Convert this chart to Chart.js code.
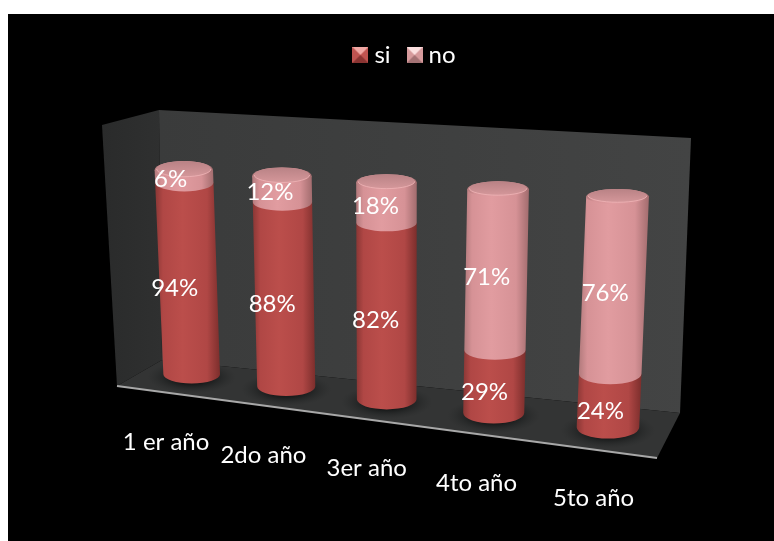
<!DOCTYPE html>
<html lang="es">
<head>
    <meta charset="UTF-8">
    <title>si / no por año</title>
    <script src="https://cdn.jsdelivr.net/npm/chart.js"></script>
    <style>
        html, body { margin: 0; padding: 0; background: #fff; }
        #wrap { position: absolute; left: 0; top: 0; width: 774px; height: 541px; }
    </style>
</head>
<body>
    <div id="wrap"><canvas id="chart" width="774" height="541"></canvas></div>

    <script>
        // Data
        const categories = ['1 er año', '2do año', '3er año', '4to año', '5to año'];
        const siValues = [94, 88, 82, 29, 24];
        const noValues = [6, 12, 18, 71, 76];

        const FONT = 'Lato, Carlito, sans-serif';

        // Where the plane of the column axes lands on the page (bl, br, tr, tl)
        const plane = [[146.5, 368.5], [668, 435], [680.5, 200.5], [137, 167]];

        // The 3D box behind the columns
        const box = {
            wallTL: [159, 110], wallTR: [691, 138], wallBR: [680, 413], wallBL: [162, 360],
            sideTL: [102, 125], floorFL: [117, 386], floorFR: [657, 458]
        };

        // Colours: [edge left, mid, highlight, edge right]
        const shades = {
            si: ['#8a3735', '#b04745', '#bb4e4b', '#7c2e2c'],
            no: ['#b27a7c', '#d69296', '#e19ca0', '#a26c6e']
        };

        // Solve the unit square -> quad homography
        function makeHomography(q) {
            const [p0, p1, p2, p3] = q;
            const dx1 = p1[0] - p2[0], dx2 = p3[0] - p2[0], sx = p0[0] - p1[0] + p2[0] - p3[0];
            const dy1 = p1[1] - p2[1], dy2 = p3[1] - p2[1], sy = p0[1] - p1[1] + p2[1] - p3[1];
            const det = dx1 * dy2 - dx2 * dy1;
            const g = (sx * dy2 - dx2 * sy) / det;
            const h = (dx1 * sy - sx * dy1) / det;
            const a = p1[0] - p0[0] + g * p1[0], b = p3[0] - p0[0] + h * p3[0], c = p0[0];
            const d = p1[1] - p0[1] + g * p1[1], e = p3[1] - p0[1] + h * p3[1], f = p0[1];
            return (u, v) => {
                const w = g * u + h * v + 1;
                return [(a * u + b * v + c) / w, (d * u + e * v + f) / w];
            };
        }
        const project = makeHomography(plane);

        function polygon(ctx, pts, fill) {
            ctx.beginPath();
            pts.forEach((p, i) => i ? ctx.lineTo(p[0], p[1]) : ctx.moveTo(p[0], p[1]));
            ctx.closePath();
            ctx.fillStyle = fill;
            ctx.fill();
        }

        function drawBox(ctx) {
            let g = ctx.createLinearGradient(102, 0, 162, 0);
            g.addColorStop(0, '#2a2b2b');
            g.addColorStop(1, '#2f3030');
            polygon(ctx, [box.sideTL, box.wallTL, box.wallBL, box.floorFL], g);

            g = ctx.createLinearGradient(159, 0, 691, 0);
            g.addColorStop(0, '#3a3b3b');
            g.addColorStop(1, '#434444');
            polygon(ctx, [box.wallTL, box.wallTR, box.wallBR, box.wallBL], g);

            polygon(ctx, [box.wallBL, box.wallBR, box.floorFR, box.floorFL], '#333434');

            ctx.beginPath();
            ctx.moveTo(box.floorFL[0], box.floorFL[1]);
            ctx.lineTo(box.floorFR[0], box.floorFR[1]);
            ctx.strokeStyle = '#a8a8a8';
            ctx.lineWidth = 2;
            ctx.stroke();
        }

        // Half height of the ellipse at a plane position
        function ellipseRy(u, v) {
            const bottom = 9 + 2.5 * u, top = 9 - 1.5 * u;
            return bottom + (top - bottom) * v;
        }

        // Half width of a column; it grows less towards the viewer than the plane does
        function columnRx(barWidth, u, v) {
            return barWidth * (0.34 + 0.045 * u + 0.012 * v * (1 - u));
        }

        function drawShadow(ctx, cx, cy, rx, ry) {
            ctx.save();
            ctx.translate(cx, cy + 3);
            ctx.scale(1, (ry + 7) / (rx + 16));
            const g = ctx.createRadialGradient(0, 0, rx * 0.7, 0, 0, rx + 16);
            g.addColorStop(0, 'rgba(24,26,26,0.95)');
            g.addColorStop(1, 'rgba(40,42,42,0)');
            ctx.fillStyle = g;
            ctx.beginPath();
            ctx.arc(0, 0, rx + 16, 0, Math.PI * 2);
            ctx.fill();
            ctx.restore();
        }

        function sideGradient(ctx, x0, x1, colors) {
            const g = ctx.createLinearGradient(x0, 0, x1, 0);
            g.addColorStop(0, colors[0]);
            g.addColorStop(0.12, colors[1]);
            g.addColorStop(0.42, colors[2]);
            g.addColorStop(0.8, colors[1]);
            g.addColorStop(1, colors[3]);
            return g;
        }

        // One stacked segment of a cylinder, from plane heights v0 up to v1
        function drawSegment(ctx, u, barWidth, v0, v1, colors) {
            const c0 = project(u, v0), c1 = project(u, v1);
            const rx0 = columnRx(barWidth, u, v0), rx1 = columnRx(barWidth, u, v1);
            const ry0 = ellipseRy(u, v0);

            ctx.beginPath();
            ctx.moveTo(c1[0] - rx1, c1[1]);
            ctx.lineTo(c0[0] - rx0, c0[1]);
            ctx.ellipse(c0[0], c0[1], rx0, ry0, 0, Math.PI, 0, true);
            ctx.lineTo(c1[0] + rx1, c1[1]);
            ctx.closePath();
            ctx.fillStyle = sideGradient(ctx, Math.min(c0[0] - rx0, c1[0] - rx1), Math.max(c0[0] + rx0, c1[0] + rx1), colors);
            ctx.fill();
        }

        function drawCap(ctx, u, barWidth, v, colors) {
            const c = project(u, v);
            const rx = columnRx(barWidth, u, v);
            const ry = ellipseRy(u, v);

            ctx.beginPath();
            ctx.ellipse(c[0], c[1], rx, ry, 0, 0, Math.PI * 2);
            ctx.fillStyle = sideGradient(ctx, c[0] - rx, c[0] + rx, colors);
            ctx.fill();

            // top face, a bit darker towards the back, with a light front rim
            const g = ctx.createLinearGradient(0, c[1] - ry, 0, c[1] + ry);
            g.addColorStop(0, '#b98285');
            g.addColorStop(1, '#d89a9d');
            ctx.beginPath();
            ctx.ellipse(c[0], c[1] - 1, rx - 2, ry - 1, 0, 0, Math.PI * 2);
            ctx.fillStyle = g;
            ctx.fill();

            ctx.beginPath();
            ctx.ellipse(c[0], c[1] - 1, rx - 2, ry - 1, 0, 0, Math.PI, false);
            ctx.strokeStyle = 'rgba(240,180,182,0.8)';
            ctx.lineWidth = 1;
            ctx.stroke();
        }

        // Pyramid style legend marker
        function makeMarker(base, light, dark) {
            const s = 16, m = document.createElement('canvas');
            m.width = s; m.height = s;
            const c = m.getContext('2d');
            polygon(c, [[0, 0], [s, 0], [s, s], [0, s]], base);
            polygon(c, [[0, 0], [s, 0], [s / 2, s / 2]], light);
            polygon(c, [[0, s], [s, s], [s / 2, s / 2]], dark);
            return m;
        }
        const markers = [
            makeMarker('#c05350', '#f0a8a4', '#8a3432'),
            makeMarker('#d69a9c', '#fbe0e0', '#a47274')
        ];

        const cylinderPlugin = {
            id: 'cylinders',
            beforeDraw(chart) {
                const ctx = chart.ctx;
                ctx.save();
                ctx.fillStyle = '#fff';
                ctx.fillRect(0, 0, chart.width, chart.height);
                ctx.fillStyle = '#000';
                ctx.fillRect(8, 14, chart.width - 8, chart.height - 14);
                ctx.restore();
            },
            // replaces the flat bars with projected cylinders
            beforeDatasetsDraw(chart) {
                const ctx = chart.ctx, area = chart.chartArea;
                const toU = x => (x - area.left) / (area.right - area.left);
                const toV = y => (area.bottom - y) / (area.bottom - area.top);
                const metas = [chart.getDatasetMeta(0), chart.getDatasetMeta(1)];
                const names = ['si', 'no'];

                ctx.save();
                drawBox(ctx);

                categories.forEach((cat, i) => {
                    const el0 = metas[0].data[i];
                    const u = toU(el0.x);
                    const c = project(u, 0);
                    drawShadow(ctx, c[0], c[1], columnRx(el0.width, u, 0), ellipseRy(u, 0));

                    metas.forEach((meta, d) => {
                        const el = meta.data[i];
                        drawSegment(ctx, u, el.width, toV(el.base), toV(el.y), shades[names[d]]);
                    });
                    drawCap(ctx, u, el0.width, toV(metas[1].data[i].y), shades.no);
                });

                // value labels, sitting left of the column axis as in the original
                ctx.fillStyle = '#fff';
                ctx.font = '24px ' + FONT;
                ctx.textAlign = 'center';
                ctx.textBaseline = 'middle';
                metas.forEach((meta, d) => {
                    const values = chart.data.datasets[d].data;
                    meta.data.forEach((el, i) => {
                        const u = toU(el.x), v = toV((el.y + el.base) / 2);
                        const p = project(u, v);
                        ctx.fillText(values[i] + '%', p[0] - 14 + 6 * u, p[1] + 12 - 9 * v);
                    });
                });

                // category labels follow the floor edge
                metas[0].data.forEach((el, i) => {
                    const u = toU(el.x);
                    const p = project(u, 0);
                    ctx.fillText(categories[i], p[0] - 27 + 14 * u, p[1] + 68 + 3 * u);
                });
                ctx.restore();
                return false;
            }
        };

        new Chart(document.getElementById('chart').getContext('2d'), {
            type: 'bar',
            data: {
                labels: categories,
                datasets: [
                    { label: 'si', data: siValues, backgroundColor: '#b94a48' },
                    { label: 'no', data: noValues, backgroundColor: '#d99599' }
                ]
            },
            options: {
                responsive: false,
                animation: false,
                barPercentage: 1,
                categoryPercentage: 0.56,
                layout: { padding: { left: 40, top: 21 } },
                scales: {
                    x: { stacked: true, display: false },
                    y: { stacked: true, display: false, min: 0, max: 100 }
                },
                plugins: {
                    tooltip: { enabled: false },
                    legend: {
                        position: 'top',
                        labels: {
                            color: '#fff',
                            font: { family: FONT, size: 24 },
                            usePointStyle: true,
                            pointStyleWidth: 4,
                            boxHeight: 16,
                            padding: 22,
                            generateLabels: chart => chart.data.datasets.map((ds, i) => ({
                                text: ds.label,
                                fillStyle: ds.backgroundColor,
                                strokeStyle: 'transparent',
                                lineWidth: 0,
                                fontColor: '#fff',
                                pointStyle: markers[i],
                                datasetIndex: i
                            }))
                        }
                    }
                }
            },
            plugins: [cylinderPlugin]
        });
    </script>
</body>
</html>
